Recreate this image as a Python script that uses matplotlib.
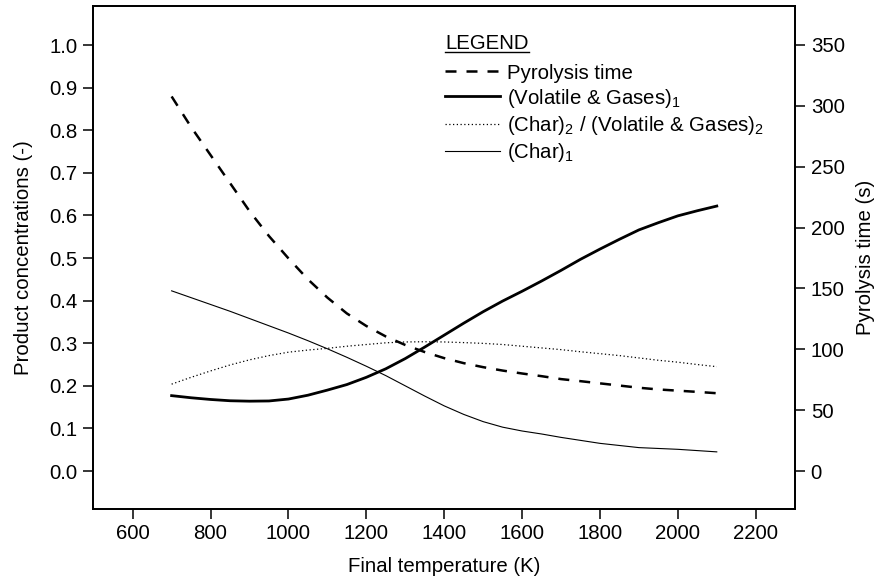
import matplotlib
matplotlib.use("Agg")
import matplotlib.pyplot as plt
from matplotlib.lines import Line2D

plt.rcParams['font.family'] = ['Liberation Sans', 'DejaVu Sans']
plt.rcParams['mathtext.fontset'] = 'custom'
plt.rcParams['mathtext.rm'] = 'Liberation Sans'
plt.rcParams['mathtext.it'] = 'Liberation Sans'
plt.rcParams['mathtext.default'] = 'regular'
plt.rcParams['font.size'] = 14.7

temp = [700, 750, 800, 850, 900, 950, 1000, 1050, 1100, 1150, 1200, 1250, 1300, 1350, 1400,
        1450, 1500, 1550, 1600, 1650, 1700, 1750, 1800, 1850, 1900, 1950, 2000, 2050, 2100]
pyro_time = [307.6, 282.5, 259.5, 236.5, 213.5, 193.0, 174.7, 157.5, 142.5, 129.5, 119.2, 110.6,
             103.6, 97.8, 92.8, 88.7, 85.4, 82.6, 80.2, 78.0, 75.6, 73.9, 72.1, 70.3, 68.5,
             67.1, 66.1, 65.1, 64.0]
vol_gas1 = [0.177, 0.172, 0.168, 0.165, 0.164, 0.1645, 0.169, 0.178, 0.190, 0.203, 0.220, 0.240,
            0.264, 0.291, 0.319, 0.347, 0.374, 0.399, 0.422, 0.446, 0.471, 0.497, 0.521, 0.544,
            0.566, 0.583, 0.599, 0.611, 0.622]
char_ratio2 = [0.204, 0.220, 0.235, 0.249, 0.261, 0.271, 0.279, 0.284, 0.288, 0.293, 0.297, 0.301,
               0.303, 0.3035, 0.303, 0.3015, 0.2997, 0.297, 0.293, 0.289, 0.285, 0.280, 0.2755,
               0.271, 0.2655, 0.260, 0.2555, 0.250, 0.245]
char1 = [0.423, 0.407, 0.391, 0.375, 0.358, 0.341, 0.324, 0.306, 0.287, 0.267, 0.246, 0.224,
         0.200, 0.176, 0.153, 0.133, 0.116, 0.103, 0.094, 0.087, 0.079, 0.072, 0.065, 0.060,
         0.055, 0.053, 0.051, 0.048, 0.045]

x_ticks = [600, 800, 1000, 1200, 1400, 1600, 1800, 2000, 2200]
left_ticks = [0.0, 0.1, 0.2, 0.3, 0.4, 0.5, 0.6, 0.7, 0.8, 0.9, 1.0]
right_ticks = [0, 50, 100, 150, 200, 250, 300, 350]

fig = plt.figure(figsize=(8.77, 5.83), dpi=100)
ax = fig.add_axes([0.106, 0.127, 0.801, 0.863])
ax2 = ax.twinx()

l_vg, = ax.plot(temp, vol_gas1, color='black', lw=2.0)
l_cr, = ax.plot(temp, char_ratio2, color='black', lw=0.9, linestyle=(0, (1, 2)))
l_c1, = ax.plot(temp, char1, color='black', lw=0.8)
l_pt, = ax2.plot(temp, pyro_time, color='black', lw=1.8, linestyle=(0, (4.4, 4.0)))

ax.set_xlim(498, 2302)
ax.set_ylim(-0.089, 1.092)
ax2.set_ylim(-31, 382)

ax.set_xticks(x_ticks)
ax.set_yticks(left_ticks)
ax.set_yticklabels(['%.1f' % v for v in left_ticks])
ax2.set_yticks(right_ticks)

for a in (ax, ax2):
    a.tick_params(direction='out', length=7, width=1.1, labelsize=14.7, pad=4)
    for s in a.spines.values():
        s.set_linewidth(1.3)

ax.set_xlabel('Final temperature (K)', fontsize=14.7, labelpad=10)
ax.set_ylabel('Product concentrations (-)', fontsize=14.7, labelpad=12)
ax2.set_ylabel('Pyrolysis time (s)', fontsize=14.7, labelpad=8)

handles = [l_pt, l_vg, l_cr, l_c1]
labels = ['Pyrolysis time', '(Volatile & Gases)$_1$',
          '(Char)$_2$ / (Volatile & Gases)$_2$', '(Char)$_1$']
leg = ax2.legend(handles, labels, title='LEGEND', loc='upper left',
                 bbox_to_anchor=(0.49, 0.96), frameon=False, fontsize=14.7,
                 title_fontsize=14.7, handlelength=2.7, handletextpad=0.34,
                 labelspacing=0.2, borderaxespad=0, alignment='left')
leg._legend_box.sep = 7.5  # a bit more room under the title

fig.canvas.draw()
tb = leg.get_title().get_window_extent()
inv = fig.transFigure.inverted()
(x0, y0), (x1, y1) = inv.transform([[tb.x0, tb.y0], [tb.x1, tb.y0]])
fig.add_artist(Line2D([x0, x1], [y0 + 0.002, y0 + 0.002], color='black', lw=1.0,
                      transform=fig.transFigure))

fig.savefig('out.png', dpi=100)
